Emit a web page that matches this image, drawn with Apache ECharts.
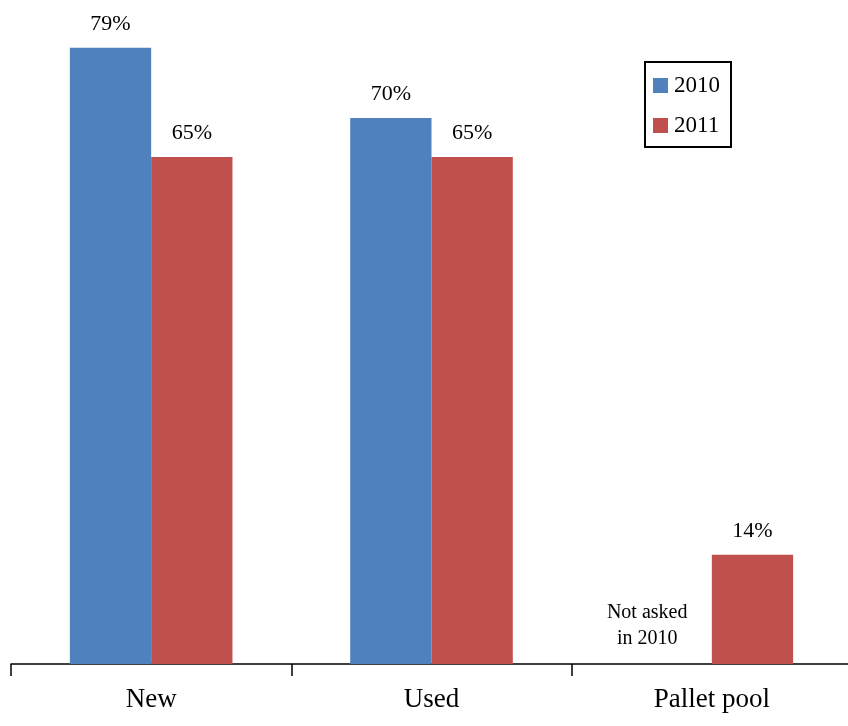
<!DOCTYPE html>
<html><head><meta charset="utf-8">
<script src="https://cdn.jsdelivr.net/npm/echarts@6/dist/echarts.min.js"></script>
<style>html,body{margin:0;padding:0;background:#fff}#c{width:848px;height:726px}</style>
</head><body><div id="c"></div>
<script>
const categories = ['New', 'Used', 'Pallet pool'];
const values2010 = [79, 70, 0];
const values2011 = [65, 65, 14];
const notAskedText = 'Not asked\nin 2010';
const FONT = '"Liberation Serif", serif';

const chart = echarts.init(document.getElementById('c'));
const data2010 = values2010.map((v, i) => i === 2 ? {
  value: v,
  label: { show: true, formatter: notAskedText, fontSize: 20, lineHeight: 26, offset: [-24, 0], distance: 12 }
} : v);
chart.setOption({
  animation: false,
  grid: { left: 11, width: 841, top: 40, bottom: 62, containLabel: false, outerBoundsMode: 'none' },
  legend: {
    left: 645, top: 62, orient: 'vertical', itemWidth: 15, itemHeight: 15, itemGap: 17,
    borderColor: '#000', borderWidth: 2, padding: [12, 11, 10, 8],
    textStyle: { fontFamily: FONT, fontSize: 23, color: '#000', padding: [0, 0, 0, 1] },
    data: [{ name: '2010', icon: 'rect' }, { name: '2011', icon: 'rect' }]
  },
  xAxis: {
    type: 'category', data: categories,
    axisLine: { lineStyle: { color: '#000', width: 1.5 } },
    axisTick: { show: true, length: 12, lineStyle: { color: '#000', width: 1.5 } },
    axisLabel: { fontFamily: FONT, fontSize: 27, color: '#000', margin: 22 }
  },
  yAxis: { type: 'value', min: 0, max: 80, show: false, splitLine: { show: false } },
  series: [
    { name: '2010', type: 'bar', data: data2010, barGap: '0%', barCategoryGap: '42%',
      itemStyle: { color: '#4F81BD' },
      label: { show: true, position: 'top', distance: 13, formatter: p => p.value + '%', fontFamily: FONT, fontSize: 22, color: '#000' } },
    { name: '2011', type: 'bar', data: values2011, barGap: '0%', barCategoryGap: '42%',
      itemStyle: { color: '#C0504D' },
      label: { show: true, position: 'top', distance: 13, formatter: p => p.value + '%', fontFamily: FONT, fontSize: 22, color: '#000' } }
  ]
});
</script></body></html>
